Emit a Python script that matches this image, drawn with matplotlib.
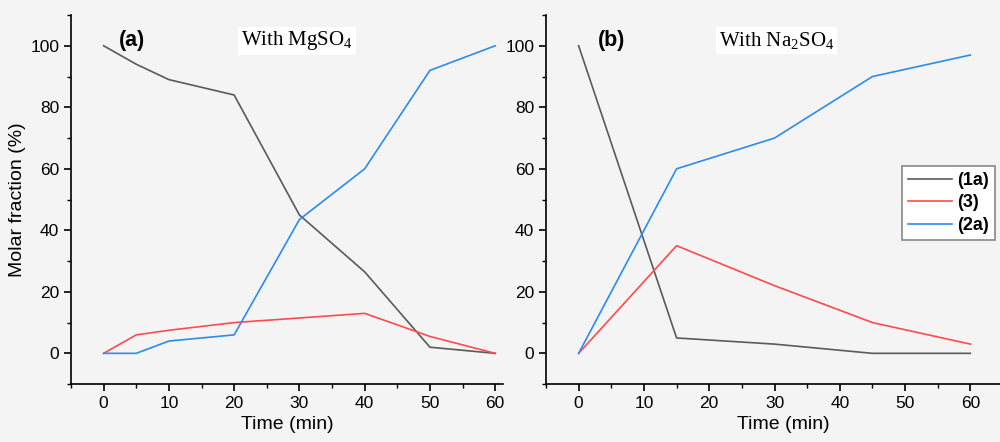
'''
Molar fraction over time, with MgSO4 (a) and Na2SO4 (b)
'''

import matplotlib.pyplot as plt
from matplotlib.ticker import MultipleLocator

plt.rcParams['font.family'] = ['Liberation Sans', 'DejaVu Sans']

# panel (a) data
time_a = [0, 5, 10, 20, 30, 40, 50, 60]
comp_1a_a = [100, 94, 89, 84, 45, 26.5, 2, 0]
comp_3_a = [0, 6, 7.5, 10, 11.5, 13, 5.5, 0]
comp_2a_a = [0, 0, 4, 6, 43.5, 60, 92, 100]

# panel (b) data
time_b = [0, 15, 30, 45, 60]
comp_1a_b = [100, 5, 3, 0, 0]
comp_3_b = [0, 35, 22, 10, 3]
comp_2a_b = [0, 60, 70, 90, 97]

names = ["(1a)", "(3)", "(2a)"]
colors = ["#5a5a5a", "#ff4b4b", "#2b8cee"]
BG = "#f4f4f4"


def style_axes(ax, xmax):
    ''' Origin-like look: only left and bottom spines, ticks outward '''
    ax.set_facecolor(BG)
    ax.spines['top'].set_visible(False)
    ax.spines['right'].set_visible(False)
    ax.spines['left'].set_linewidth(1.2)
    ax.spines['bottom'].set_linewidth(1.2)
    ax.set_xlim(-5, xmax)
    ax.set_ylim(-10, 110)
    ax.xaxis.set_major_locator(MultipleLocator(10))
    ax.xaxis.set_minor_locator(MultipleLocator(5))
    ax.yaxis.set_major_locator(MultipleLocator(20))
    ax.yaxis.set_minor_locator(MultipleLocator(10))
    ax.set_yticks([0, 20, 40, 60, 80, 100])
    ax.tick_params(which='major', direction='out', length=5, width=1.2,
                   labelsize=12.5)
    ax.tick_params(which='minor', direction='out', length=3, width=1.0)
    ax.set_xlabel("Time (min)", fontsize=14, labelpad=4)


fig = plt.figure(figsize=(10, 4.42), dpi=100)
fig.patch.set_facecolor(BG)

ax_a = fig.add_axes([0.071, 0.131, 0.432, 0.835])
ax_b = fig.add_axes([0.546, 0.131, 0.474, 0.835])

style_axes(ax_a, 61.2)
style_axes(ax_b, 67.6)

series_a = [comp_1a_a, comp_3_a, comp_2a_a]
series_b = [comp_1a_b, comp_3_b, comp_2a_b]
for i in range(len(names)):
    ax_a.plot(time_a, series_a[i], color=colors[i], lw=1.2)
    ax_b.plot(time_b, series_b[i], color=colors[i], lw=1.2, label=names[i])

ax_a.set_ylabel("Molar fraction (%)", fontsize=14, labelpad=3)

# panel tags and titles
ax_a.text(0.11, 0.93, "(a)", transform=ax_a.transAxes, fontsize=15.5,
          fontweight='bold', ha='left', va='center')
ax_b.text(0.11, 0.93, "(b)", transform=ax_b.transAxes, fontsize=15.5,
          fontweight='bold', ha='left', va='center')
ax_a.text(0.523, 0.93, r"With MgSO$_\mathregular{4}$", transform=ax_a.transAxes,
          fontsize=15, family='Liberation Serif', ha='center', va='center',
          bbox=dict(facecolor='white', edgecolor='none', pad=2))
ax_b.text(0.487, 0.93, r"With Na$_\mathregular{2}$SO$_\mathregular{4}$",
          transform=ax_b.transAxes, fontsize=15, family='Liberation Serif',
          ha='center', va='center',
          bbox=dict(facecolor='white', edgecolor='none', pad=2))

leg = ax_b.legend(loc='upper left', bbox_to_anchor=(0.902, 0.625),
                  bbox_transform=fig.transFigure, fancybox=False,
                  edgecolor='#888888', facecolor='white', framealpha=1,
                  handlelength=2.4, handletextpad=0.3, borderpad=0.35,
                  borderaxespad=0, labelspacing=0.3,
                  prop={'weight': 'bold', 'size': 13})
leg.get_frame().set_linewidth(1.2)

fig.savefig("out.png", dpi=100, facecolor=BG)
